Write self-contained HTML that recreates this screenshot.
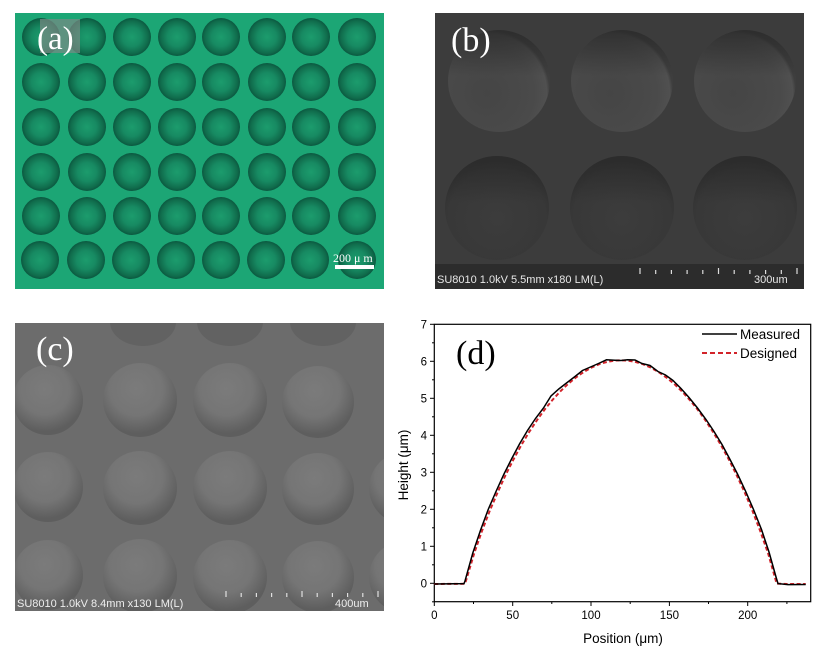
<!DOCTYPE html>
<html><head><meta charset="utf-8"><style>
html,body{margin:0;padding:0;background:#fff;}
svg{display:block;}
</style></head><body>
<svg width="824" height="656" viewBox="0 0 824 656" xmlns="http://www.w3.org/2000/svg">
<defs>
  <radialGradient id="gc" cx="50%" cy="50%" r="50%">
    <stop offset="0" stop-color="#1c9c6d"/>
    <stop offset="0.5" stop-color="#178a62"/>
    <stop offset="0.85" stop-color="#106c4c"/>
    <stop offset="1" stop-color="#0b5840"/>
  </radialGradient>
  <radialGradient id="gb" cx="38%" cy="62%" r="62%">
    <stop offset="0" stop-color="#454545"/>
    <stop offset="0.75" stop-color="#4a4a4a"/>
    <stop offset="0.95" stop-color="#505050"/>
    <stop offset="1" stop-color="#3e3e3e"/>
  </radialGradient>
  <linearGradient id="gbt" x1="0" y1="0" x2="0" y2="1">
    <stop offset="0" stop-color="#2a2a2a" stop-opacity="0.85"/>
    <stop offset="0.45" stop-color="#2a2a2a" stop-opacity="0"/>
  </linearGradient>
  <radialGradient id="gb2" cx="50%" cy="60%" r="55%">
    <stop offset="0" stop-color="#3c3c3c"/>
    <stop offset="0.85" stop-color="#383838"/>
    <stop offset="1" stop-color="#333"/>
  </radialGradient>
  <radialGradient id="gcc" cx="45%" cy="35%" r="60%">
    <stop offset="0" stop-color="#7b7b7b"/>
    <stop offset="0.6" stop-color="#757575"/>
    <stop offset="1" stop-color="#5e5e5e"/>
  </radialGradient>
  <clipPath id="cpb"><rect x="435" y="13" width="369" height="276"/></clipPath>
  <clipPath id="cpc"><rect x="15" y="323" width="369" height="288"/></clipPath>
</defs>

<!-- Panel (a) -->
<rect x="15" y="13" width="369" height="276" fill="#1ca675"/>
<g fill="url(#gc)">
  <circle cx="41" cy="37" r="19"/><circle cx="87" cy="37" r="19"/><circle cx="132" cy="37" r="19"/><circle cx="177" cy="37" r="19"/><circle cx="221" cy="37" r="19"/><circle cx="267" cy="37" r="19"/><circle cx="311" cy="37" r="19"/><circle cx="357" cy="37" r="19"/>
  <circle cx="41" cy="82" r="19"/><circle cx="87" cy="82" r="19"/><circle cx="132" cy="82" r="19"/><circle cx="177" cy="82" r="19"/><circle cx="221" cy="82" r="19"/><circle cx="267" cy="82" r="19"/><circle cx="311" cy="82" r="19"/><circle cx="357" cy="82" r="19"/>
  <circle cx="41" cy="127" r="19"/><circle cx="87" cy="127" r="19"/><circle cx="132" cy="127" r="19"/><circle cx="177" cy="127" r="19"/><circle cx="221" cy="127" r="19"/><circle cx="267" cy="127" r="19"/><circle cx="311" cy="127" r="19"/><circle cx="357" cy="127" r="19"/>
  <circle cx="41" cy="172" r="19"/><circle cx="87" cy="172" r="19"/><circle cx="132" cy="172" r="19"/><circle cx="177" cy="172" r="19"/><circle cx="221" cy="172" r="19"/><circle cx="267" cy="172" r="19"/><circle cx="311" cy="172" r="19"/><circle cx="357" cy="172" r="19"/>
  <circle cx="41" cy="216" r="19"/><circle cx="87" cy="216" r="19"/><circle cx="132" cy="216" r="19"/><circle cx="177" cy="216" r="19"/><circle cx="221" cy="216" r="19"/><circle cx="267" cy="216" r="19"/><circle cx="311" cy="216" r="19"/><circle cx="357" cy="216" r="19"/>
  <circle cx="40" cy="260" r="19"/><circle cx="86" cy="260" r="19"/><circle cx="131" cy="260" r="19"/><circle cx="176" cy="260" r="19"/><circle cx="221" cy="260" r="19"/><circle cx="266" cy="260" r="19"/><circle cx="310" cy="260" r="19"/><circle cx="357" cy="260" r="19"/>
</g>
<rect x="40" y="19" width="40" height="34" fill="#7a8a84" fill-opacity="0.7"/>
<text x="37" y="49" font-family="Liberation Serif, serif" font-size="33" fill="#fff">(a)</text>
<text x="333" y="262" font-family="Liberation Serif, serif" font-size="12" fill="#fff">200 μ m</text>
<rect x="335" y="265" width="39" height="4" fill="#fff"/>

<!-- Panel (b) -->
<g clip-path="url(#cpb)">
<rect x="435" y="13" width="369" height="276" fill="#3c3c3c"/>
  <circle cx="499" cy="81" r="51" fill="url(#gb)"/>
  <circle cx="622" cy="81" r="51" fill="url(#gb)"/>
  <circle cx="745" cy="81" r="51" fill="url(#gb)"/>
  <circle cx="499" cy="81" r="51" fill="url(#gbt)"/>
  <circle cx="622" cy="81" r="51" fill="url(#gbt)"/>
  <circle cx="745" cy="81" r="51" fill="url(#gbt)"/>
  <circle cx="497" cy="208" r="52" fill="url(#gb2)"/>
  <circle cx="622" cy="208" r="52" fill="url(#gb2)"/>
  <circle cx="745" cy="208" r="52" fill="url(#gb2)"/>
  <circle cx="497" cy="208" r="52" fill="url(#gbt)"/>
  <circle cx="622" cy="208" r="52" fill="url(#gbt)"/>
  <circle cx="745" cy="208" r="52" fill="url(#gbt)"/>
<rect x="435" y="264" width="369" height="25" fill="#2c2c2c"/>
</g>
<text x="437" y="283" font-family="Liberation Sans, sans-serif" font-size="11" fill="#e8e8e8">SU8010 1.0kV 5.5mm x180 LM(L)</text>
<text x="754" y="283" font-family="Liberation Sans, sans-serif" font-size="11" fill="#e8e8e8">300um</text>
<g stroke="#ddd" stroke-width="1.2">
  <line x1="640" y1="268" x2="640" y2="274"/><line x1="655.7" y1="270" x2="655.7" y2="274"/><line x1="671.4" y1="270" x2="671.4" y2="274"/><line x1="687.1" y1="270" x2="687.1" y2="274"/><line x1="702.8" y1="270" x2="702.8" y2="274"/><line x1="718.5" y1="268" x2="718.5" y2="274"/><line x1="734.2" y1="270" x2="734.2" y2="274"/><line x1="749.9" y1="270" x2="749.9" y2="274"/><line x1="765.6" y1="270" x2="765.6" y2="274"/><line x1="781.3" y1="270" x2="781.3" y2="274"/><line x1="797" y1="268" x2="797" y2="274"/>
</g>
<text x="451" y="51" font-family="Liberation Serif, serif" font-size="34" fill="#fff">(b)</text>

<!-- Panel (c) -->
<g clip-path="url(#cpc)">
<rect x="15" y="323" width="369" height="288" fill="#6c6c6c"/>
<g fill="url(#gcc)">
  <ellipse cx="143" cy="322" rx="33" ry="24" fill="#626262"/><ellipse cx="230" cy="322" rx="33" ry="24" fill="#626262"/><ellipse cx="323" cy="322" rx="33" ry="24" fill="#626262"/>
  <circle cx="48" cy="400" r="35"/><circle cx="140" cy="400" r="37"/><circle cx="230" cy="400" r="37"/><circle cx="318" cy="402" r="36"/>
  <circle cx="48" cy="487" r="35"/><circle cx="140" cy="488" r="37"/><circle cx="230" cy="488" r="37"/><circle cx="318" cy="489" r="36"/>
  <circle cx="48" cy="575" r="35"/><circle cx="140" cy="576" r="37"/><circle cx="230" cy="577" r="37"/><circle cx="318" cy="577" r="36"/>
  <circle cx="405" cy="488" r="36"/><circle cx="405" cy="577" r="36"/>
</g>
</g>
<text x="17" y="607" font-family="Liberation Sans, sans-serif" font-size="11" fill="#eee">SU8010 1.0kV 8.4mm x130 LM(L)</text>
<text x="335" y="607" font-family="Liberation Sans, sans-serif" font-size="11" fill="#eee">400um</text>
<g stroke="#e0e0e0" stroke-width="1.2">
  <line x1="226" y1="591" x2="226" y2="597"/><line x1="241.2" y1="593" x2="241.2" y2="597"/><line x1="256.4" y1="593" x2="256.4" y2="597"/><line x1="271.6" y1="593" x2="271.6" y2="597"/><line x1="286.8" y1="593" x2="286.8" y2="597"/><line x1="302" y1="591" x2="302" y2="597"/><line x1="317.2" y1="593" x2="317.2" y2="597"/><line x1="332.4" y1="593" x2="332.4" y2="597"/><line x1="347.6" y1="593" x2="347.6" y2="597"/><line x1="362.8" y1="593" x2="362.8" y2="597"/><line x1="378" y1="591" x2="378" y2="597"/>
</g>
<text x="36" y="360" font-family="Liberation Serif, serif" font-size="34" fill="#fff">(c)</text>

<!-- Panel (d) -->
<rect x="434.3" y="324.3" width="376.4" height="277.4" fill="#fff" stroke="#000" stroke-width="1.2"/>
<g stroke="#000" stroke-width="1">
  <line x1="430" y1="583.3" x2="434.3" y2="583.3"/><line x1="430" y1="546.3" x2="434.3" y2="546.3"/><line x1="430" y1="509.3" x2="434.3" y2="509.3"/><line x1="430" y1="472.3" x2="434.3" y2="472.3"/><line x1="430" y1="435.3" x2="434.3" y2="435.3"/><line x1="430" y1="398.3" x2="434.3" y2="398.3"/><line x1="430" y1="361.3" x2="434.3" y2="361.3"/><line x1="430" y1="324.3" x2="434.3" y2="324.3"/>
  <line x1="432" y1="601.8" x2="434.3" y2="601.8"/><line x1="432" y1="564.8" x2="434.3" y2="564.8"/><line x1="432" y1="527.8" x2="434.3" y2="527.8"/><line x1="432" y1="490.8" x2="434.3" y2="490.8"/><line x1="432" y1="453.8" x2="434.3" y2="453.8"/><line x1="432" y1="416.8" x2="434.3" y2="416.8"/><line x1="432" y1="379.8" x2="434.3" y2="379.8"/><line x1="432" y1="342.8" x2="434.3" y2="342.8"/>
  <line x1="434.3" y1="601.7" x2="434.3" y2="606"/><line x1="512.7" y1="601.7" x2="512.7" y2="606"/><line x1="591" y1="601.7" x2="591" y2="606"/><line x1="669.4" y1="601.7" x2="669.4" y2="606"/><line x1="747.7" y1="601.7" x2="747.7" y2="606"/>
  <line x1="473.5" y1="601.7" x2="473.5" y2="604"/><line x1="551.8" y1="601.7" x2="551.8" y2="604"/><line x1="630.2" y1="601.7" x2="630.2" y2="604"/><line x1="708.5" y1="601.7" x2="708.5" y2="604"/><line x1="786.9" y1="601.7" x2="786.9" y2="604"/>
</g>
<g font-family="Liberation Sans, sans-serif" font-size="11.5" fill="#000" text-anchor="end">
  <text x="427" y="587.5">0</text><text x="427" y="550.5">1</text><text x="427" y="513.5">2</text><text x="427" y="476.5">3</text><text x="427" y="439.5">4</text><text x="427" y="402.5">5</text><text x="427" y="365.5">6</text><text x="427" y="328.5">7</text>
</g>
<g font-family="Liberation Sans, sans-serif" font-size="11.5" fill="#000" text-anchor="middle">
  <text x="434.3" y="619">0</text><text x="512.7" y="619">50</text><text x="591" y="619">100</text><text x="669.4" y="619">150</text><text x="747.7" y="619">200</text>
</g>
<text x="623" y="643" font-family="Liberation Sans, sans-serif" font-size="13.5" fill="#000" text-anchor="middle">Position (μm)</text>
<text transform="translate(408,465) rotate(-90)" font-family="Liberation Sans, sans-serif" font-size="13.5" fill="#000" text-anchor="middle">Height (μm)</text>

<polyline fill="none" stroke="#d2232a" stroke-width="2" stroke-dasharray="4,2.5" points="434.3,584 465,583.8 466.2,580 474.2,553.3 482,530.9 489.8,510.7 497.7,492.2 505.5,475.2 513.4,459.6 521.2,445.3 529,432.2 536.9,420.3 544.7,409.5 552.5,399.9 560.4,391.3 568.2,383.8 576,377.4 583.9,371.9 591.7,367.5 599.5,364.1 607.4,361.8 615.2,360.5 620.8,360.4 627,360.5 634.9,361.8 642.7,364.1 650.5,367.5 658.4,371.9 666.2,377.4 674.1,383.8 681.9,391.3 689.7,399.9 697.6,409.5 705.4,420.3 713.2,432.2 721.1,445.3 728.9,459.6 736.7,475.2 744.6,492.2 752.4,510.7 760.2,530.9 768.1,553.3 775.6,579.8 776.5,583.6 787,584 805.7,584"/>
<polyline fill="none" stroke="#000" stroke-width="1.5" points="434.3,584 464,583.6 465,581 472.8,553 480.6,530 488.2,509.5 496,491.5 504,474 511.8,458.5 519.5,444 527.5,430.5 535.5,418.5 543.5,408 551,396 558.8,389 566.5,383 575,376.5 582.5,370.5 590.5,367 598.5,363.5 606.5,359.8 615,360.2 621,360.5 627.5,359.8 635,360 642,363.5 650,365.5 658,371.5 665.5,375 673,380.5 681,388.5 689,397.5 697.5,408 706,419.5 714,431.5 722,444.5 729.5,458.5 737.5,474 745.5,491 753.5,509.5 761.5,529.5 769,552 776.3,578 778,583.6 788,584.6 805.7,584.5"/>

<line x1="702" y1="334" x2="737" y2="334" stroke="#000" stroke-width="1.6"/>
<line x1="702" y1="353" x2="737" y2="353" stroke="#d2232a" stroke-width="2" stroke-dasharray="5,3"/>
<text x="740" y="339" font-family="Liberation Sans, sans-serif" font-size="13.5" fill="#000">Measured</text>
<text x="740" y="358" font-family="Liberation Sans, sans-serif" font-size="13.5" fill="#000">Designed</text>
<text x="456" y="364" font-family="Liberation Serif, serif" font-size="34" fill="#000">(d)</text>
</svg>
</body></html>
